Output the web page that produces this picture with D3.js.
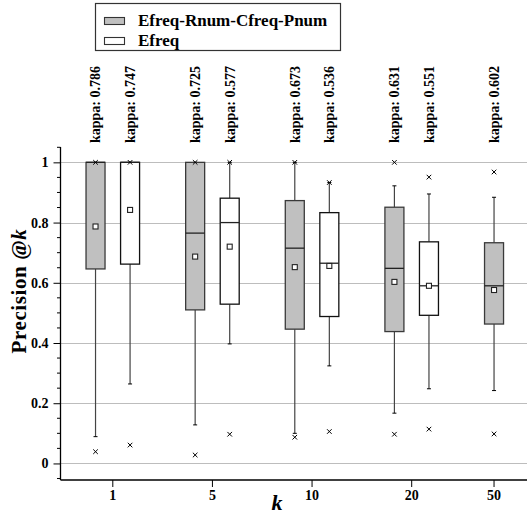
<!DOCTYPE html>
<html>
<head>
<meta charset="utf-8">
<script src="https://cdn.jsdelivr.net/npm/d3@7"></script>
<style>
  body { margin: 0; background: #fff; }
  svg text { font-family: "Times New Roman", Times, "Liberation Serif", "DejaVu Serif", serif !important; font-weight: bold; }
</style>
</head>
<body>
<div id="plt"></div>
<script>
// k values on the x axis
const kLabels = ["1", "5", "10", "20", "50"];

// Efreq-Rnum-Cfreq-Pnum (gray boxes)
const aMin   = [0.039, 0.028, 0.087, 0.097, 0.098];
const aLow   = [0.089, 0.128, 0.100, 0.167, 0.242];
const aQ1    = [0.646, 0.510, 0.446, 0.438, 0.463];
const aMed   = [1.000, 0.765, 0.715, 0.648, 0.590];
const aQ3    = [1.000, 1.000, 0.873, 0.851, 0.733];
const aHigh  = [1.000, 1.000, 1.000, 0.922, 0.884];
const aMax   = [1.000, 1.000, 1.000, 1.000, 0.968];
const aMean  = [0.787, 0.687, 0.652, 0.603, 0.576];
const aKappa = ["0.786", "0.725", "0.673", "0.631", "0.602"];

// Efreq (white boxes) - no box for k=50
const bMin   = [0.061, 0.097, 0.106, 0.114];
const bLow   = [0.264, 0.397, 0.324, 0.248];
const bQ1    = [0.662, 0.529, 0.488, 0.492];
const bMed   = [1.000, 0.800, 0.665, 0.590];
const bQ3    = [1.000, 0.881, 0.833, 0.736];
const bHigh  = [1.000, 1.000, 0.933, 0.895];
const bMax   = [1.000, 1.000, 0.933, 0.951];
const bMean  = [0.842, 0.720, 0.656, 0.590];
const bKappa = ["0.747", "0.577", "0.536", "0.551"];

const seriesNames = ["Efreq-Rnum-Cfreq-Pnum", "Efreq"];
const seriesFill = ["#c0c0c0", "#ffffff"];
const yTicks = [0, 0.2, 0.4, 0.6, 0.8, 1];

// build the box table
const boxes = [];
kLabels.forEach((k, g) => {
  boxes.push({g, s: 0, min: aMin[g], low: aLow[g], q1: aQ1[g], med: aMed[g], q3: aQ3[g], high: aHigh[g], max: aMax[g], mean: aMean[g], kappa: aKappa[g]});
  if (g < bMin.length)
    boxes.push({g, s: 1, min: bMin[g], low: bLow[g], q1: bQ1[g], med: bMed[g], q3: bQ3[g], high: bHigh[g], max: bMax[g], mean: bMean[g], kappa: bKappa[g]});
});

const W = 527, H = 515;
const plotL = 60.5, plotR = 527, plotT = 147, plotB = 480;

const svg = d3.select("#plt").append("svg")
    .attr("width", W).attr("height", H);

// slot units: boxes sit side by side inside a group, groups are spaced apart
const groupPitch = 2.884;
const slot = d => d.g * groupPitch + d.s;
const x = d3.scaleLinear().domain([-1.014, 12.49]).range([plotL, plotR]);
const y = d3.scaleLinear().domain([-0.055, 1.051]).range([plotB, plotT]);
const boxW = 19;

// grid lines
svg.append("g").selectAll("line")
  .data(yTicks).enter().append("line")
  .attr("x1", plotL).attr("x2", plotR)
  .attr("y1", d => Math.round(y(d)) + 0.5).attr("y2", d => Math.round(y(d)) + 0.5)
  .attr("stroke", "#bdbdbd").attr("stroke-width", 1.2);

// y axis
const yAxis = d3.axisLeft(y).tickValues(yTicks).tickSize(7).tickFormat(d => d === 0 || d === 1 ? d : d3.format(".1f")(d));
const yg = svg.append("g").attr("transform", `translate(${plotL},0)`).call(yAxis);
yg.select(".domain").remove();
yg.selectAll("text").attr("font-size", 14).attr("fill", "#000").attr("x", -12);
yg.selectAll("line").attr("stroke", "#000");
const minor = d3.range(-0.05, 1.051, 0.05).filter(v => Math.abs(Math.round(v * 5) - v * 5) > 0.01);
svg.append("g").selectAll("line").data(minor).enter().append("line")
  .attr("x1", plotL - 3.5).attr("x2", plotL)
  .attr("y1", d => y(d)).attr("y2", d => y(d))
  .attr("stroke", "#000");
svg.append("line").attr("x1", plotL).attr("x2", plotL).attr("y1", plotT).attr("y2", plotB)
  .attr("stroke", "#000").attr("stroke-width", 1.3);

// x axis
const tickPos = kLabels.map((k, g) => d3.mean(boxes.filter(b => b.g === g), slot));
svg.append("line").attr("x1", plotL).attr("x2", plotR).attr("y1", plotB).attr("y2", plotB)
  .attr("stroke", "#000").attr("stroke-width", 1.3);
const xt = svg.append("g").selectAll("g").data(kLabels).enter().append("g")
  .attr("transform", (d, i) => `translate(${x(tickPos[i])},${plotB})`);
xt.append("line").attr("y1", 0).attr("y2", 7).attr("stroke", "#000");
xt.append("text").attr("y", 20).attr("text-anchor", "middle").attr("font-size", 14).text(d => d);

// axis titles
svg.append("text").attr("x", 277).attr("y", 510).attr("text-anchor", "middle")
  .attr("font-size", 22).attr("font-style", "italic").text("k");
const yt = svg.append("text").attr("transform", "translate(26,291) rotate(-90)")
  .attr("text-anchor", "middle").attr("font-size", 21).attr("letter-spacing", 0.6);
yt.append("tspan").text("Precision @");
yt.append("tspan").attr("font-style", "italic").text("k");

// boxes
const bx = svg.append("g").selectAll("g").data(boxes).enter().append("g")
  .attr("transform", d => `translate(${x(slot(d))},0)`);

bx.append("line").attr("y1", d => y(d.q1)).attr("y2", d => y(d.low))
  .attr("stroke", "#444").attr("stroke-width", 1.2);
bx.append("line").attr("y1", d => y(d.q3)).attr("y2", d => y(d.high))
  .attr("stroke", "#444").attr("stroke-width", 1.2);
bx.append("line").attr("x1", -2).attr("x2", 2).attr("y1", d => y(d.low)).attr("y2", d => y(d.low))
  .attr("stroke", "#000");
bx.append("line").attr("x1", -2).attr("x2", 2).attr("y1", d => y(d.high)).attr("y2", d => y(d.high))
  .attr("stroke", "#000");

bx.append("rect")
  .attr("x", -boxW / 2).attr("width", boxW)
  .attr("y", d => y(d.q3)).attr("height", d => y(d.q1) - y(d.q3))
  .attr("fill", d => seriesFill[d.s])
  .attr("stroke", d => d.s === 0 ? "#3a3a3a" : "#111").attr("stroke-width", 1.3);
bx.append("line").attr("x1", -boxW / 2).attr("x2", boxW / 2)
  .attr("y1", d => y(d.med)).attr("y2", d => y(d.med))
  .attr("stroke", "#222").attr("stroke-width", 1.3);

// mean marker
bx.append("rect").attr("x", -2.5).attr("width", 5).attr("y", d => y(d.mean) - 2.5).attr("height", 5)
  .attr("fill", "#fff").attr("stroke", "#222").attr("stroke-width", 1.1);

// min / max crosses
const cross = (sel, key) => sel.append("path")
  .attr("d", d => { const yy = y(d[key]); return `M-2.3,${yy - 2.3}L2.3,${yy + 2.3}M-2.3,${yy + 2.3}L2.3,${yy - 2.3}`; })
  .attr("stroke", "#000").attr("stroke-width", 1);
cross(bx, "min");
cross(bx, "max");

// kappa labels
bx.append("text").attr("transform", "translate(0,143) rotate(-90)")
  .attr("dy", "0.35em").attr("font-size", 14).text(d => "kappa: " + d.kappa);

// legend
const lg = svg.append("g");
lg.append("rect").attr("x", 95.5).attr("y", 3.5).attr("width", 245).attr("height", 47)
  .attr("fill", "#fff").attr("stroke", "#333").attr("stroke-width", 1.2);
seriesNames.forEach((name, i) => {
  lg.append("rect").attr("x", 104.5).attr("y", 17.5 + i * 20).attr("width", 20).attr("height", 7)
    .attr("fill", seriesFill[i]).attr("stroke", "#333").attr("stroke-width", 1.1);
  lg.append("text").attr("x", 138).attr("y", 26 + i * 19.5).attr("font-size", 17).text(name);
});
</script>
</body>
</html>
